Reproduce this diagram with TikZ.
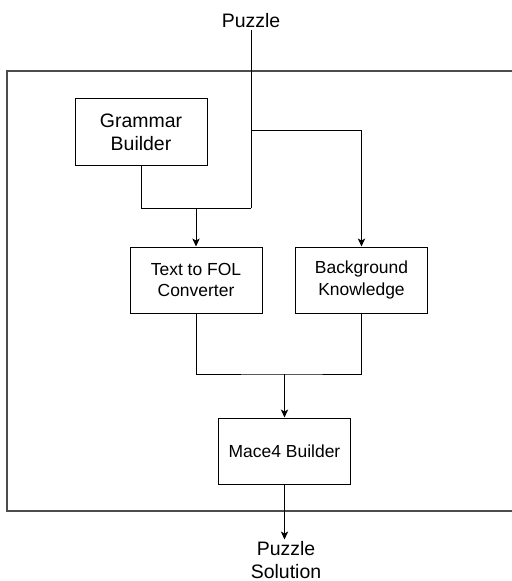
\documentclass[tikz,border=0pt]{standalone}
\usepackage{fontspec}
\setmainfont{Liberation Sans}
\usepackage{tikz}
\usetikzlibrary{arrows.meta}

\begin{document}
\begin{tikzpicture}[x=0.75pt,y=-0.75pt,
  block/.style={draw,line width=0.75pt,minimum width=99pt,minimum height=49.5pt,align=center,inner sep=1pt},
  big/.style={font=\fontsize{14.6}{17.3}\selectfont},
  small/.style={font=\fontsize{13.1}{15.8}\selectfont},
  arr/.style={-{Stealth[length=6pt,width=5.5pt,inset=1.5pt]}},
  line width=0.75pt]
\useasboundingbox (0,0) rectangle (511,581);
% outer frame, right side runs off the page
\draw[line width=1pt,black!70] (515,71) -- (7,71) -- (7,511) -- (515,511);
\node[big,inner sep=1pt] (puzzle) at (251,21) {Puzzle};
\node[block,big] (grammar) at (141,132) {Grammar\\Builder};
\node[block,small] (tofol) at (196,280) {Text to FOL\\Converter};
\node[block,small] (bk) at (361.5,280) {Background\\Knowledge};
\node[block,small] (mace) at (284.5,451) {Mace4 Builder};
\node[big,align=center,inner sep=1pt] (solution) at (286,560) {Puzzle\\Solution};
\coordinate (split) at (251,131);
\coordinate (join) at (251,208);
\coordinate (merge) at (284.5,374);
\draw (puzzle.south) -- (join);
\draw[arr] (split) -| (bk.north);
\draw (grammar.south) |- (join);
\draw[arr] (tofol.north |- join) -- (tofol.north);
\draw (tofol.south) |- (merge) -| (bk.south);
\draw[arr] (merge) -- (mace.north);
\draw[arr] (mace.south) -- (mace.south |- solution.north);
\end{tikzpicture}
\end{document}
